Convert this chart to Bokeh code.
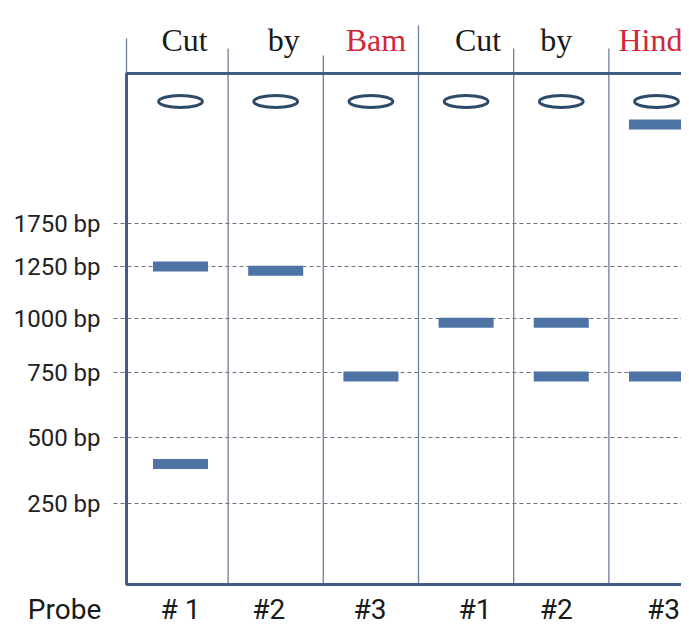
import numpy as np
from bokeh.plotting import figure
from bokeh.models import Range1d, ColumnDataSource
from bokeh.core.properties import value
from bokeh.embed import file_html
from bokeh.resources import INLINE

# ---------------- data ----------------
lanes = [1, 2, 3, 4, 5, 6]
header_words = ["Cut", "by", "Bam", "Cut", "by", "Hind"]
header_colors = ["#1a1a1a", "#1a1a1a", "#d0283a", "#1a1a1a", "#1a1a1a", "#d0283a"]
probe_labels = ["# 1", "#2", "#3", "#1", "#2", "#3"]

ladder_bp = [1750, 1250, 1000, 750, 500, 250]
ladder_migration = [122, 165, 217, 271, 336, 402]   # distance run from the well
ladder_labels = ["1750 bp", "1250 bp", "1000 bp", "750 bp", "500 bp", "250 bp"]

band_lane = [1, 1, 2, 3, 4, 5, 5, 6, 6]
band_bp = [1250, 400, 1230, 735, 980, 980, 735, 735, 2900]


def migration(bp):
    """piecewise-linear ladder calibration, extrapolated above the top marker"""
    bps = np.array(ladder_bp, float)
    mig = np.array(ladder_migration, float)
    if bp > bps[0]:
        slope = (mig[0] - mig[1]) / (bps[0] - bps[1])
        return mig[0] + slope * (bp - bps[0])
    return float(np.interp(bp, bps[::-1], mig[::-1]))


band_mig = [migration(b) for b in band_bp]

# ---------------- figure ----------------
p = figure(width=681, height=629, output_backend="svg", toolbar_location=None,
           x_range=Range1d(-0.891, 6.263), y_range=Range1d(528, -101),
           x_axis_type=None, y_axis_type=None, min_border=0)
p.grid.visible = False
p.outline_line_color = None
p.background_fill_color = "white"

gel_left, gel_right = 0.433, 6.4
gel_top, gel_bottom = -28, 483
line_col = "#3e5c84"

# ladder grid lines
p.segment(x0=[0.296] * len(ladder_migration), y0=ladder_migration,
          x1=[gel_right] * len(ladder_migration), y1=ladder_migration,
          line_color="#6e7080", line_width=1, line_dash="4 3")

# lane separators
sep_x = [1.5, 2.5, 3.5, 4.5, 5.5]
sep_top = [-53, -46, -76, -53, -53]
p.segment(x0=sep_x, y0=sep_top, x1=sep_x, y1=[gel_bottom] * 5,
          line_color="#6f7e97", line_width=1.3)
p.segment(x0=[gel_left], y0=[-63], x1=[gel_left], y1=[gel_top],
          line_color="#6f7e97", line_width=1.3)

# gel box
p.line(x=[gel_right, gel_left, gel_left, gel_right],
       y=[gel_top, gel_top, gel_bottom, gel_bottom],
       line_color=line_col, line_width=3)

# wells
p.ellipse(x=lanes, y=[0] * 6, width=0.46, height=12,
          fill_color="white", line_color="#2e4a6b", line_width=3)

# bands
src = ColumnDataSource(dict(x=band_lane, y=band_mig))
p.rect(x="x", y="y", width=0.578, height=10, source=src,
       fill_color="#4e74a6", line_color=None)

# header words
p.text(x=lanes, y=[-62] * 6, text=header_words, text_color=header_colors,
       x_offset=[4, 8, 5, 12, -5, -6],
       text_align="center", text_baseline="alphabetic",
       text_font=value("Liberation Serif"), text_font_size="32px")

# ladder labels
p.text(x=[0.16] * 6, y=ladder_migration, text=ladder_labels,
       text_align="right", text_baseline="middle", text_color="#222222",
       text_font=value("Roboto"), text_font_size="24px")

# bottom labels
p.text(x=[-0.218], y=[508], text=["Probe"], text_align="center",
       text_baseline="middle", text_color="#1a1a1a",
       text_font=value("Roboto"), text_font_size="28px")
p.text(x=lanes, y=[508] * 6, text=probe_labels, text_align="center",
       x_offset=[0, -7, -1, 9, -5, 7],
       text_baseline="middle", text_color="#1a1a1a",
       text_font=value("Roboto"), text_font_size="28px")

open("out.html", "w").write(file_html(p, INLINE))
